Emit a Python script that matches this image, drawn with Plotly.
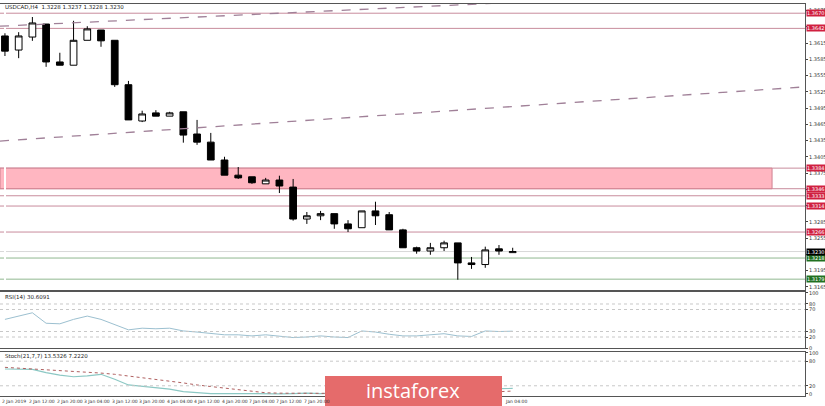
import plotly.graph_objects as go
from plotly.subplots import make_subplots

# USDCAD H4 candles
opens = [1.3628, 1.3602, 1.3626, 1.3650, 1.3580, 1.3574, 1.3620, 1.3639, 1.3620, 1.3538,
         1.3471, 1.3486, 1.3480, 1.3488, 1.3447, 1.3432, 1.3399, 1.3371, 1.3368, 1.3355,
         1.3362, 1.3349, 1.3290, 1.3296, 1.3300, 1.3281, 1.3274, 1.3305, 1.3298, 1.3270,
         1.3237, 1.3231, 1.3237, 1.3246, 1.3209, 1.3206, 1.3235, 1.3228]
highs = [1.3633, 1.3635, 1.3663, 1.3650, 1.3597, 1.3656, 1.3646, 1.3639, 1.3620, 1.3545,
         1.3490, 1.3491, 1.3488, 1.3488, 1.3473, 1.3449, 1.3405, 1.3386, 1.3368, 1.3366,
         1.3370, 1.3364, 1.3303, 1.3305, 1.3300, 1.3288, 1.3305, 1.3322, 1.3303, 1.3272,
         1.3239, 1.3246, 1.3250, 1.3246, 1.3220, 1.3239, 1.3242, 1.3237]
lows = [1.3591, 1.3587, 1.3619, 1.3571, 1.3574, 1.3574, 1.3620, 1.3608, 1.3534, 1.3473,
        1.3469, 1.3480, 1.3480, 1.3431, 1.3427, 1.3399, 1.3371, 1.3364, 1.3355, 1.3355,
        1.3338, 1.3287, 1.3281, 1.3288, 1.3272, 1.3266, 1.3274, 1.3279, 1.3270, 1.3237,
        1.3226, 1.3224, 1.3231, 1.3178, 1.3198, 1.3200, 1.3224, 1.3228]
closes = [1.3600, 1.3628, 1.3652, 1.3580, 1.3574, 1.3620, 1.3641, 1.3619, 1.3538, 1.3473,
          1.3484, 1.3480, 1.3486, 1.3445, 1.3432, 1.3399, 1.3371, 1.3366, 1.3357, 1.3362,
          1.3351, 1.3290, 1.3296, 1.3300, 1.3281, 1.3272, 1.3305, 1.3296, 1.3270, 1.3237,
          1.3231, 1.3237, 1.3246, 1.3209, 1.3206, 1.3233, 1.3231, 1.3230]

rsi = [52, 58, 64, 45, 44, 52, 58, 52, 42, 33, 36, 35, 36, 31, 29, 26, 24, 24, 22, 24,
       22, 19, 20, 22, 20, 19, 31, 29, 25, 22, 22, 24, 26, 22, 21, 31, 30, 30.6]
stoch_main = [61, 60, 60, 52, 46, 42, 44, 48, 36, 22, 19, 16, 12, 6, 3, 1, 1, 0.5, 0.5, 1,
              0.5, 1, 2, 1, 2, 3, 2, 1, 2, 1, 2, 3, 2, 1, 2, 8, 13, 13.5]
stoch_sig = [65, 63, 62, 60, 58, 55, 53, 51, 48, 44, 40, 36, 31, 27, 22, 18, 14, 10, 6, 3,
             2, 1.5, 1, 1, 1.5, 2, 2, 2, 1.5, 1.5, 2, 2, 2, 2, 2, 4, 6, 7.2]

red_levels = [1.3670, 1.3642, 1.3384, 1.3346, 1.3333, 1.3314, 1.3266]
green_levels = [1.3218, 1.3179]
last_price = 1.3230
zone = [1.3346, 1.3384]
# dashed trend lines: x0, y0, x1, y1 in candle index / price
trend_up = [-0.36, 1.3646, 40.4, 1.3694]
trend_low = [-0.36, 1.3434, 58.3, 1.3534]

# date labels every 2 bars; the ones under the watermark are not visible
date_labels = ["2 Jan 2019", "2 Jan 12:00", "2 Jan 20:00", "3 Jan 04:00", "3 Jan 12:00",
               "3 Jan 20:00", "4 Jan 04:00", "4 Jan 12:00", "4 Jan 20:00", "7 Jan 04:00",
               "7 Jan 12:00", "7 Jan 20:00", None, None, None, None, None, None, "Jan 04:00"]

W, H = 825, 406
def py(p):
    return 1 - p / H

idx = list(range(len(opens)))
xr = [-0.36, 58.3]
fig = make_subplots(rows=3, cols=1, shared_xaxes=True)

fig.add_trace(go.Candlestick(x=idx, open=opens, high=highs, low=lows, close=closes,
                             increasing=dict(line=dict(color="black", width=1), fillcolor="white"),
                             decreasing=dict(line=dict(color="black", width=1), fillcolor="black"),
                             whiskerwidth=0, showlegend=False), row=1, col=1)
fig.add_trace(go.Scatter(x=idx, y=rsi, mode="lines", line=dict(color="#9cc0d0", width=1),
                         showlegend=False), row=2, col=1)
fig.add_trace(go.Scatter(x=idx, y=stoch_main, mode="lines", line=dict(color="#8cc8c4", width=1.2),
                         showlegend=False), row=3, col=1)
fig.add_trace(go.Scatter(x=idx, y=stoch_sig, mode="lines", line=dict(color="#b06060", width=1, dash="dot"),
                         showlegend=False), row=3, col=1)

fig.add_shape(type="rect", xref="x", yref="y", x0=-0.36, x1=55.9, y0=zone[0], y1=zone[1],
              fillcolor="#ffb6c1", line=dict(color="#d08090", width=1), layer="below")

lab_font = dict(size=5, color="white", family="DejaVu Sans")
def level(lv, col, bg):
    fig.add_shape(type="line", xref="x domain", yref="y", x0=0, x1=1, y0=lv, y1=lv,
                  line=dict(color=col, width=1), layer="below")
    fig.add_annotation(xref="paper", yref="y", x=0.977, y=lv, text=f"{lv:.4f}", showarrow=False,
                       xanchor="left", font=lab_font, bgcolor=bg, borderpad=0)

for lv in red_levels:
    level(lv, "#c88c9c", "#d02040")
for lv in green_levels:
    level(lv, "#90b890", "#207020")
level(last_price, "#d8d8d8", "black")
for t in [trend_up, trend_low]:
    fig.add_shape(type="line", xref="x", yref="y", x0=t[0], y0=t[1], x1=t[2], y1=t[3],
                  line=dict(color="#a08098", width=1.3, dash="dash"))

for lv in [80, 70, 30, 20]:
    fig.add_shape(type="line", xref="x2 domain", yref="y2", x0=0, x1=1, y0=lv, y1=lv,
                  line=dict(color="#c8c8c8", width=1, dash="dot"))
for lv in [80, 20]:
    fig.add_shape(type="line", xref="x3 domain", yref="y3", x0=0, x1=1, y0=lv, y1=lv,
                  line=dict(color="#c8c8c8", width=1, dash="dot"))

axis_font = dict(size=5, color="#333", family="DejaVu Sans")
common_x = dict(range=xr, showgrid=False, showticklabels=False, showline=True, mirror=True,
                linecolor="#555", linewidth=1, domain=[0, 805 / W], automargin=False,
                rangeslider=dict(visible=False))
fig.update_layout(xaxis=common_x, xaxis2=common_x, xaxis3=common_x)
ax_y = dict(side="right", showgrid=False, showline=True, mirror=True, linecolor="#555",
            linewidth=1, tickfont=axis_font, ticks="outside", ticklen=2, zeroline=False,
            automargin=False)
fig.update_layout(
    yaxis=dict(ax_y, range=[1.3159, 1.3687], domain=[py(290), py(4)],
               tickvals=[1.3165 + 0.003 * k for k in range(18)], tickformat=".4f"),
    yaxis2=dict(ax_y, range=[0, 101.8], domain=[py(348), py(292)],
                tickvals=[0, 20, 30, 70, 80, 100]),
    yaxis3=dict(ax_y, range=[-4.9, 102.4], domain=[py(396), py(352)],
                tickvals=[0, 20, 80, 100]),
)

for k, lab in enumerate(date_labels):
    if lab is None:
        continue
    x = 2 * k - 0.36 if k < 18 else 2 * k + 0.3
    fig.add_annotation(xref="x3", yref="paper", x=x, y=py(397), text=lab, showarrow=False,
                       xanchor="left", yanchor="top", font=dict(axis_font, size=4.5))

hdr = dict(size=5.5, color="#222", family="DejaVu Sans")
fig.add_annotation(xref="paper", yref="paper", x=0.004, y=py(2), text="USDCAD,H4  1.3228 1.3237 1.3228 1.3230",
                   showarrow=False, xanchor="left", yanchor="top", font=hdr)
fig.add_annotation(xref="paper", yref="paper", x=0.004, y=py(292), text="RSI(14) 30.6091",
                   showarrow=False, xanchor="left", yanchor="top", font=hdr)
fig.add_annotation(xref="paper", yref="paper", x=0.004, y=py(351), text="Stoch(21,7,7) 13.5326 7.2220",
                   showarrow=False, xanchor="left", yanchor="top", font=hdr)

# watermark
fig.add_shape(type="rect", xref="paper", yref="paper", x0=325 / W, x1=502 / W, y0=0, y1=py(376),
              fillcolor="#e56b6b", line=dict(width=0))
fig.add_annotation(xref="paper", yref="paper", x=413 / W, y=py(390), text="instaforex", showarrow=False,
                   yanchor="middle", font=dict(size=20, color="white", family="Open Sans"))

fig.update_layout(width=W, height=H, margin=dict(l=0, r=0, t=0, b=0, autoexpand=False),
                  plot_bgcolor="white", paper_bgcolor="white")
fig.write_html("out.html", config={"displayModeBar": False},
               post_script="document.body.style.margin='0';")
